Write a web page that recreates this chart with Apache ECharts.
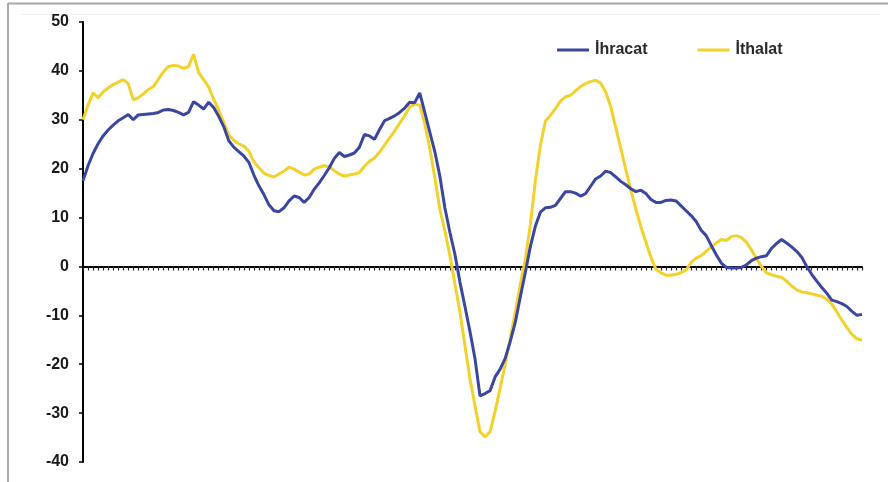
<!DOCTYPE html>
<html>
<head>
<meta charset="utf-8">
<script src="https://cdn.jsdelivr.net/npm/echarts@6/dist/echarts.min.js"></script>
<style>
html,body{margin:0;padding:0;background:#fff;}
#c{width:888px;height:482px;}
</style>
</head>
<body>
<div id="c"></div>
<script>
// Monthly, Jan 2003 - Dec 2015 (12-month cumulative % change)
const months = [];
for (let y = 2003; y <= 2015; y++) for (let m = 1; m <= 12; m++) months.push(y + '-' + (m < 10 ? '0' + m : m));

const seriesNames = ['İhracat', 'İthalat'];

const ihracat = [
17.5,20.6,23.1,25.1,26.7,27.9,28.9,29.8,30.4,31.1,30.0,31.0,
31.1,31.2,31.3,31.5,32.0,32.1,31.9,31.5,31.0,31.5,33.7,33.0,
32.2,33.6,32.5,30.7,28.6,25.7,24.4,23.5,22.6,21.3,18.7,16.5,
14.7,12.6,11.4,11.2,12.0,13.4,14.4,14.1,13.1,14.1,15.8,17.1,
18.6,20.2,22.1,23.3,22.5,22.8,23.2,24.4,27.0,26.7,26.0,28.0,
29.8,30.3,30.8,31.5,32.4,33.6,33.5,35.5,31.5,27.5,23.5,18.5,
12.0,7.0,2.5,-3.2,-8.2,-13.3,-18.9,-26.5,-26.0,-25.4,-22.6,-21.0,
-18.8,-15.4,-11.5,-6.3,-1.3,4.0,8.2,11.1,12.0,12.1,12.5,13.9,
15.3,15.3,15.0,14.4,14.9,16.4,17.9,18.5,19.5,19.2,18.3,17.4,
16.7,15.9,15.3,15.6,14.9,13.7,13.1,13.1,13.5,13.6,13.4,12.4,
11.4,10.4,9.2,7.4,6.3,4.3,2.4,0.7,-0.2,-0.3,-0.3,-0.2,
0.3,1.2,1.7,2.0,2.2,3.7,4.7,5.5,4.8,4.0,3.1,1.9,
0.0,-1.6,-3.0,-4.3,-5.5,-6.9,-7.2,-7.6,-8.2,-9.2,-10.0,-9.8
];

const ithalat = [
30.0,33.0,35.5,34.5,35.7,36.5,37.2,37.7,38.2,37.4,34.1,34.5,
35.3,36.2,36.8,38.3,39.8,40.9,41.1,41.0,40.5,40.9,43.4,39.7,
38.2,36.7,34.2,32.0,29.5,26.9,25.8,25.1,24.6,23.6,21.4,20.2,
19.1,18.6,18.3,18.9,19.5,20.3,19.9,19.3,18.7,18.9,19.9,20.3,
20.6,20.4,19.6,18.9,18.5,18.7,18.9,19.2,20.5,21.5,22.2,23.4,
24.8,26.3,27.7,29.3,30.8,32.6,33.2,33.0,29.2,24.2,18.2,11.7,
7.3,2.3,-3.6,-9.3,-16.2,-23.0,-28.5,-33.8,-34.9,-33.8,-29.6,-24.9,
-20.0,-14.8,-9.5,-3.7,1.4,8.4,17.5,24.7,29.7,30.9,32.3,33.8,
34.7,35.0,35.9,36.8,37.4,37.8,38.1,37.5,35.7,32.7,28.4,24.2,
19.8,15.6,11.8,8.1,5.0,1.9,-0.6,-1.3,-1.8,-1.8,-1.6,-1.3,
-0.7,0.8,1.7,2.2,3.1,4.0,4.8,5.5,5.3,6.1,6.3,5.9,
5.0,3.4,1.6,0.0,-1.3,-1.7,-2.0,-2.2,-3.0,-4.0,-4.8,-5.2,
-5.4,-5.6,-5.9,-6.1,-6.7,-7.7,-9.3,-11.0,-12.5,-13.9,-14.8,-15.1
];

const yMin = -40, yMax = 50, yStep = 10;

const chart = echarts.init(document.getElementById('c'), null, {renderer: 'canvas'});
chart.setOption({
  animation: false,
  backgroundColor: '#ffffff',
  textStyle: {fontFamily: 'Liberation Sans, Arial, sans-serif'},
  graphic: [
    {type: 'line', shape: {x1: 8, y1: 3.5, x2: 888, y2: 3.5}, style: {stroke: '#a8a8a8', lineWidth: 2}},
    {type: 'line', shape: {x1: 8, y1: 3, x2: 8, y2: 482}, style: {stroke: '#a8a8a8', lineWidth: 2}},
    {type: 'line', shape: {x1: 22, y1: 14.5, x2: 880, y2: 14.5}, style: {stroke: '#eeeeee', lineWidth: 1}}
  ],
  legend: {
    data: seriesNames,
    top: 37,
    left: 552,
    itemGap: 50,
    itemWidth: 32,
    itemHeight: 3,
    icon: 'rect',
    textStyle: {fontSize: 16, fontWeight: 'bold', color: '#2a2a2a', padding: [0, 0, 0, 1]}
  },
  grid: {left: 83, right: 26, top: 22, bottom: 20, containLabel: false},
  xAxis: {
    type: 'category',
    data: months,
    boundaryGap: false,
    axisLine: {onZero: true, lineStyle: {color: '#000', width: 2}},
    axisTick: {show: true, interval: 0, length: 4, inside: false, lineStyle: {color: '#222', width: 1.2}},
    axisLabel: {show: false},
    splitLine: {show: false}
  },
  yAxis: {
    type: 'value',
    min: yMin, max: yMax, interval: yStep,
    axisLine: {show: true, lineStyle: {color: '#000', width: 2}},
    axisTick: {show: true, length: 4, lineStyle: {color: '#000', width: 1.5}},
    axisLabel: {fontSize: 16, fontWeight: 'bold', color: '#1a1a1a', margin: 14},
    splitLine: {show: false}
  },
  series: [
    {name: seriesNames[0], type: 'line', data: ihracat, symbol: 'none', smooth: false,
     lineStyle: {color: '#3b469e', width: 3}, itemStyle: {color: '#3b469e'}, z: 3},
    {name: seriesNames[1], type: 'line', data: ithalat, symbol: 'none', smooth: false,
     lineStyle: {color: '#f2d12c', width: 3}, itemStyle: {color: '#f2d12c'}, z: 2}
  ]
});
</script>
</body>
</html>
